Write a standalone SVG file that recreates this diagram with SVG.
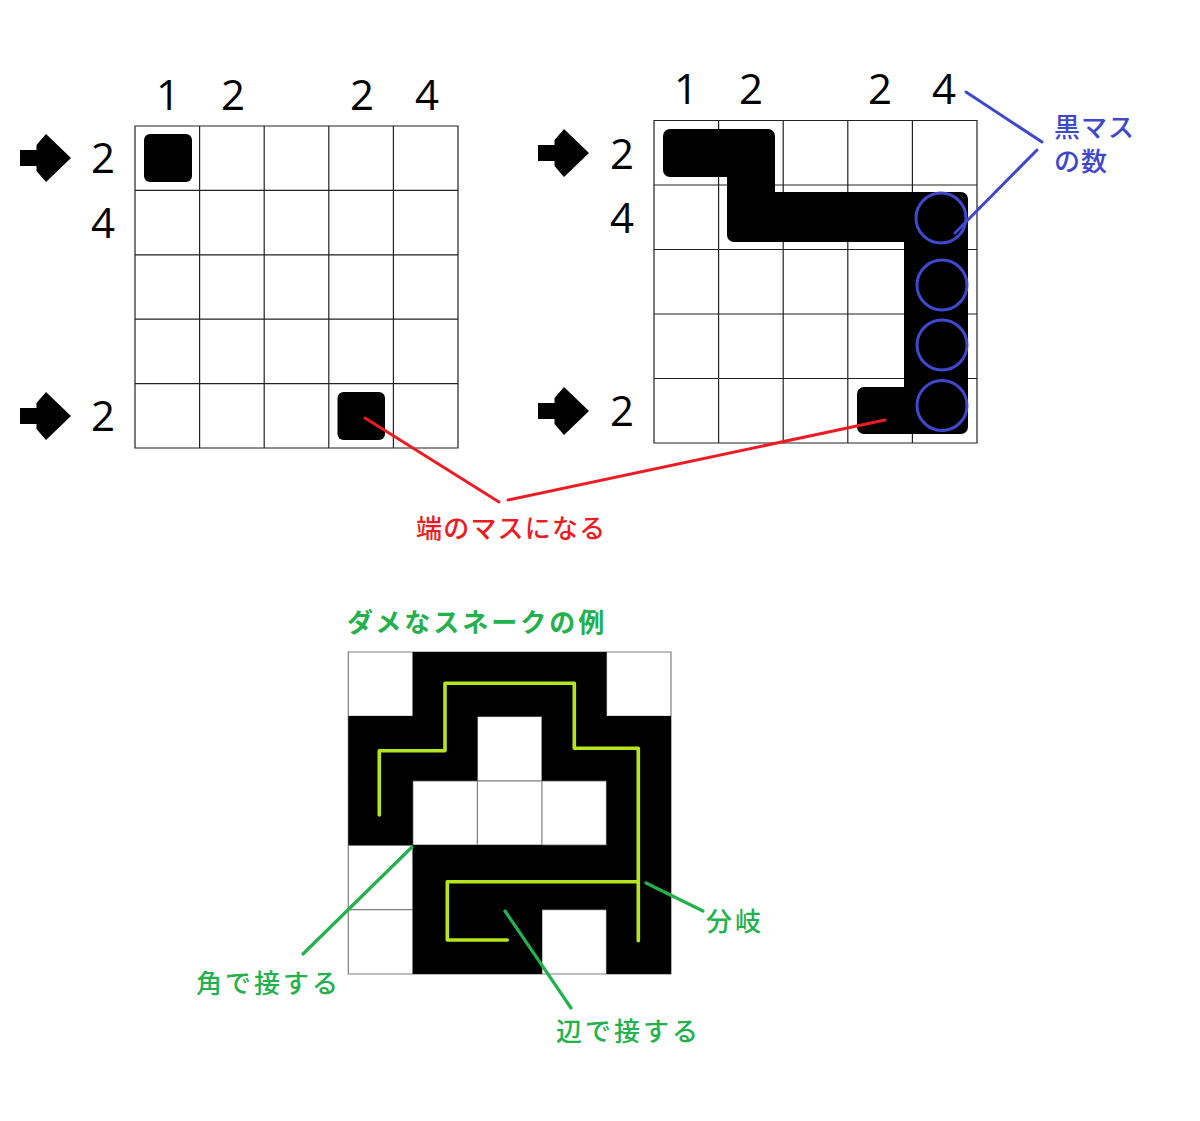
<svg xmlns="http://www.w3.org/2000/svg" xmlns:xlink="http://www.w3.org/1999/xlink" width="1200" height="1121" viewBox="0 0 1200 1121">
<style>
.grid{fill:none;stroke:#222;stroke-width:1.2}
.ggrid{fill:none;stroke:#808080;stroke-width:1.2}
.num{font-family:"Open Sans","Noto Sans",sans-serif;font-size:42px;fill:#000;text-anchor:middle}
.jp{font-family:"Noto Sans CJK JP",sans-serif;font-weight:500}
.red{fill:#ED1C24}
.blue{fill:#3F48CC}
.green{fill:#22B14C}
.lred{stroke:#ED1C24;stroke-width:3;fill:none;stroke-linecap:round}
.lblue{stroke:#3F48CC;stroke-width:3;fill:none;stroke-linecap:round}
.lgreen{stroke:#22B14C;stroke-width:3.2;fill:none;stroke-linecap:round}
.circ{fill:none;stroke:#3F48CC;stroke-width:3}
</style>
<defs>
<path id="arrow" d="M0,-8 H16.5 V-13 L26,-24 L51,0 L26,24 L16.5,13 V8 H0 Z" fill="#000"/>
</defs>
<rect width="1200" height="1121" fill="#fff"/>

<g id="puzzle-left">
<path class="grid" d="M135,126 H458 V448 H135 Z M199.6,126 V448 M264.2,126 V448 M328.8,126 V448 M393.4,126 V448 M135,190.4 H458 M135,254.8 H458 M135,319.2 H458 M135,383.6 H458"/>
<rect x="144" y="134" width="48" height="48" rx="6" fill="#000"/>
<rect x="337.5" y="392" width="47.5" height="48" rx="6" fill="#000"/>
<text class="num" x="168" y="110">1</text>
<text class="num" x="233" y="110">2</text>
<text class="num" x="362" y="110">2</text>
<text class="num" x="427" y="110">4</text>
<text class="num" x="103" y="173">2</text>
<text class="num" x="103" y="238">4</text>
<text class="num" x="103" y="431">2</text>
<use xlink:href="#arrow" x="20" y="158"/>
<use xlink:href="#arrow" x="20" y="416"/>
</g>

<g id="puzzle-right">
<path class="grid" d="M654,120.5 H977 V443 H654 Z M718.6,120.5 V443 M783.2,120.5 V443 M847.8,120.5 V443 M912.4,120.5 V443 M654,185 H977 M654,249.5 H977 M654,314 H977 M654,378.5 H977"/>
<polygon points="670,136 768,136 768,199 961,199 961,427 864,427 864,394 911,394 911,235 734,235 734,170 670,170" fill="#000" stroke="#000" stroke-width="14" stroke-linejoin="round"/>
<circle class="circ" cx="941" cy="218" r="25"/>
<circle class="circ" cx="942" cy="285" r="25"/>
<circle class="circ" cx="942" cy="345" r="25"/>
<circle class="circ" cx="942" cy="405.5" r="25"/>
<text class="num" x="686" y="103.5">1</text>
<text class="num" x="751" y="103.5">2</text>
<text class="num" x="880" y="103.5">2</text>
<text class="num" x="944" y="103.5">4</text>
<text class="num" x="622" y="168.5">2</text>
<text class="num" x="622" y="233">4</text>
<text class="num" x="622" y="426">2</text>
<use xlink:href="#arrow" x="538" y="153"/>
<use xlink:href="#arrow" x="538" y="411"/>
</g>

<g id="label-blue">
<text class="jp blue" x="1054" y="137" font-size="26" letter-spacing="1">黒マス</text>
<text class="jp blue" x="1054" y="170.5" font-size="26" letter-spacing="1">の数</text>
</g>

<g id="label-red">
<text class="jp red" x="416" y="538" font-size="26" letter-spacing="1.2">端のマスになる</text>
</g>

<g id="bad-snake">
<text class="jp green" x="347" y="631.5" font-size="26" font-weight="bold" style="font-weight:700" letter-spacing="3">ダメなスネークの例</text>
<path class="ggrid" d="M348.3,652 H671 V974 H348.3 Z M412.8,652 V974 M477.4,652 V974 M541.9,652 V974 M606.5,652 V974 M348.3,716.4 H671 M348.3,780.8 H671 M348.3,845.2 H671 M348.3,909.6 H671"/>
<path fill="#000" d="M412.8,652 H606.5 V716.4 H412.8 Z M348.3,716.4 H477.4 V780.8 H348.3 Z M541.9,716.4 H671 V780.8 H541.9 Z M348.3,780.4 H412.8 V845.2 H348.3 Z M606.5,780.4 H671 V845.2 H606.5 Z M412.8,845.2 H671 V909.6 H412.8 Z M412.8,909.2 H541.9 V974 H412.8 Z M606.5,909.2 H671 V974 H606.5 Z M606.5,716 H671 V910 H606.5 Z M412.8,845 H542 V974 H412.8 Z M348.3,716 H412.8 V845.2 H348.3 Z"/>
<path d="M379.3,815 V750.7 H445 V683.3 H574.3 V748.3 H638.3 V940.7 M638.3,881.7 H447.3 V940 H507.3" fill="none" stroke="#B5E61D" stroke-width="3.6" stroke-linecap="round" stroke-linejoin="round"/>
</g>

<g id="label-green">
<text class="jp green" x="196" y="993" font-size="26" letter-spacing="3">角で接する</text>
<text class="jp green" x="556" y="1041" font-size="26" letter-spacing="3">辺で接する</text>
<text class="jp green" x="706" y="931" font-size="26" letter-spacing="3">分岐</text>
</g>

<g id="connectors">
<line class="lred" x1="365" y1="418" x2="499" y2="502"/>
<line class="lred" x1="885" y1="420" x2="508" y2="500"/>
<line class="lblue" x1="966" y1="92" x2="1042" y2="142"/>
<line class="lblue" x1="1037" y1="150" x2="955" y2="233"/>
<line class="lgreen" x1="412" y1="847" x2="303" y2="954"/>
<line class="lgreen" x1="505" y1="911" x2="571" y2="1008"/>
<line class="lgreen" x1="646" y1="883" x2="703" y2="911"/>
</g>
</svg>
